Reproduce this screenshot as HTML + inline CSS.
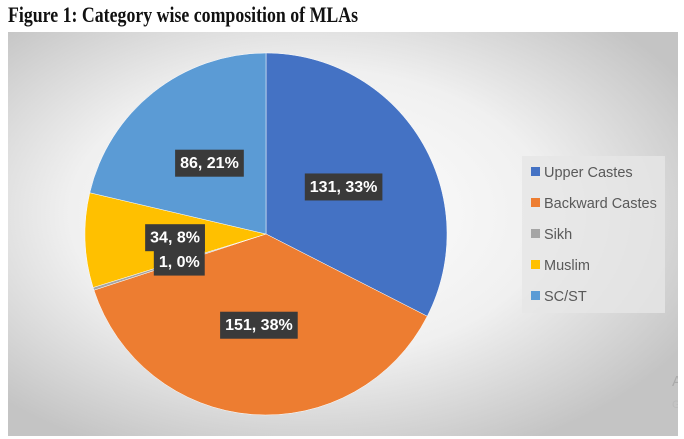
<!DOCTYPE html>
<html><head><meta charset="utf-8"><style>
body{margin:0;width:684px;height:439px;background:#fff;overflow:hidden;position:relative;font-family:"Liberation Sans",sans-serif}
#title{position:absolute;left:8px;top:2px;font-family:"Liberation Serif",serif;font-weight:bold;font-size:22px;color:#111;transform:scaleX(0.81);transform-origin:0 0;white-space:nowrap}
#chart{position:absolute;left:8px;top:32px}
</style></head><body>
<div id="title">Figure 1: Category wise composition of MLAs</div>
<svg id="chart" width="670" height="404">
<defs><radialGradient id="bg" cx="45%" cy="45%" r="65%"><stop offset="0" stop-color="#ffffff"/><stop offset="0.55" stop-color="#f0f0f0"/><stop offset="1" stop-color="#c4c4c4"/></radialGradient></defs>
<rect x="0" y="0" width="670" height="404" fill="url(#bg)"/>
<g id="slices"></g><g id="labels"></g>
<g id="legend"><rect x="514" y="124" width="143" height="157" fill="#e6e6e6" opacity="0.8"/></g>
<text x="664" y="354" font-size="15" fill="#aaa">A</text>
<text x="664" y="376" font-size="11" fill="#bbb">Go</text>
</svg>
<script>
const categories=["Upper Castes","Backward Castes","Sikh","Muslim","SC/ST"];
const values=[131,151,1,34,86];
const colors=["#4472c4","#ed7d31","#a5a5a5","#ffc000","#5b9bd5"];
const NS="http://www.w3.org/2000/svg";
const cx=258,cy=202,R=181;
const total=values.reduce((a,b)=>a+b,0);
// largest-remainder rounding so percentages sum to 100
const raw=values.map(v=>v/total*100);
const pct=raw.map(Math.floor);
let left=100-pct.reduce((a,b)=>a+b,0);
raw.map((r,i)=>[r-Math.floor(r),i]).sort((a,b)=>b[0]-a[0]).slice(0,left).forEach(e=>pct[e[1]]++);
const sl=document.getElementById('slices'),lb=document.getElementById('labels'),lg=document.getElementById('legend');
function pt(a,r){return [cx+r*Math.sin(a),cy-r*Math.cos(a)];}
let acc=0;
values.forEach((v,i)=>{
 const a0=acc/total*2*Math.PI;acc+=v;const a1=acc/total*2*Math.PI;
 const p0=pt(a0,R),p1=pt(a1,R);
 const p=document.createElementNS(NS,'path');
 p.setAttribute('d',`M${cx},${cy}L${p0[0]},${p0[1]}A${R},${R} 0 ${a1-a0>Math.PI?1:0} 1 ${p1[0]},${p1[1]}Z`);
 p.setAttribute('fill',colors[i]);p.setAttribute('stroke','#fff');p.setAttribute('stroke-width','0.5');
 
 
 sl.appendChild(p);
});
acc=0;
values.forEach((v,i)=>{
 const am=(acc+v/2)/total*2*Math.PI;acc+=v;
 const c=pt(am,91);
 const txt=v+", "+pct[i]+"%";
 const g=document.createElementNS(NS,'g');
 
 
 const t=document.createElementNS(NS,'text');
 t.setAttribute('x',c[0]);t.setAttribute('y',c[1]+5.5);t.setAttribute('text-anchor','middle');
 t.setAttribute('font-size','16');t.setAttribute('font-weight','bold');t.setAttribute('fill','#fff');
 t.textContent=txt;
 const r=document.createElementNS(NS,'rect');
 g.appendChild(r);g.appendChild(t);lb.appendChild(g);
 const w=t.getComputedTextLength()+10;
 r.setAttribute('x',c[0]-w/2);r.setAttribute('y',c[1]-13);r.setAttribute('width',w);r.setAttribute('height',27);
 r.setAttribute('fill','#3a3a3a');
});
categories.forEach((c,i)=>{
 const y=140+i*31;
 const g=document.createElementNS(NS,'g');
 
 
 const s=document.createElementNS(NS,'rect');
 s.setAttribute('x',523);s.setAttribute('y',y-5);s.setAttribute('width',9);s.setAttribute('height',9);s.setAttribute('fill',colors[i]);
 const t=document.createElementNS(NS,'text');
 t.setAttribute('x',536);t.setAttribute('y',y+5);t.setAttribute('font-size','14.5');t.setAttribute('fill','#595959');
 t.textContent=c;
 g.appendChild(s);g.appendChild(t);lg.appendChild(g);
});
</script>
</body></html>
